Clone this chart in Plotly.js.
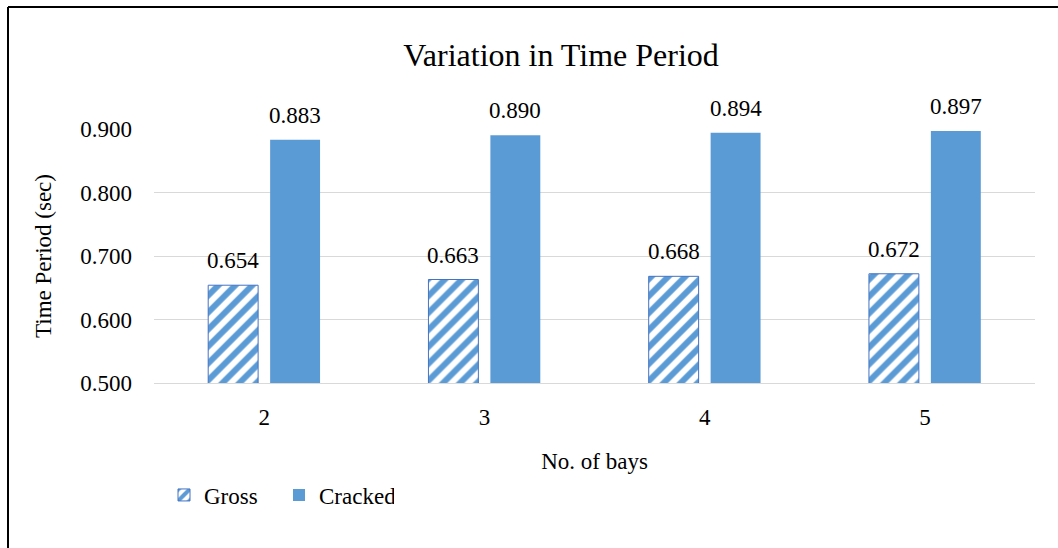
<!DOCTYPE html>
<html>
<head>
<meta charset="utf-8">
<script src="https://cdn.plot.ly/plotly-3.0.1.min.js"></script>
<style>html,body{margin:0;padding:0;background:#fff;}#chart{width:1058px;height:548px;}</style>
</head>
<body>
<div id="chart"></div>
<script>
const categories = ['2', '3', '4', '5'];
const grossValues = [0.654, 0.663, 0.668, 0.672];
const crackedValues = [0.883, 0.890, 0.894, 0.897];
const yTicks = [0.5, 0.6, 0.7, 0.8, 0.9];

const FONT = 'Liberation Serif';
const W = 1058, H = 548, L = 154, R = 23, T = 129, B = 165;
const pw = W - L - R, ph = H - T - B;
const px = x => (x - L) / pw;
const py = y => (H - B - y) / ph;

const traces = [
  {
    type: 'bar', name: 'Gross', x: categories, y: grossValues,
    marker: {
      color: '#FFFFFF',
      line: {color: '#4472C4', width: 1},
      pattern: {shape: '/', fgcolor: '#5B9BD5', bgcolor: '#FFFFFF', size: 12, solidity: 0.5, fillmode: 'replace'}
    },
    hoverinfo: 'skip'
  },
  {
    type: 'bar', name: 'Cracked', x: categories, y: crackedValues,
    marker: {color: '#5B9BD5'},
    hoverinfo: 'skip'
  }
];

const labelAnns = [];
categories.forEach((c, i) => {
  labelAnns.push({xref: 'x', yref: 'y', x: i, y: grossValues[i], text: grossValues[i].toFixed(3),
    showarrow: false, xshift: -31, yshift: 10, yanchor: 'bottom', font: {family: FONT, size: 23, color: '#000'}});
  labelAnns.push({xref: 'x', yref: 'y', x: i, y: crackedValues[i], text: crackedValues[i].toFixed(3),
    showarrow: false, xshift: 31, yshift: 10, yanchor: 'bottom', font: {family: FONT, size: 23, color: '#000'}});
});

const layout = {
  width: W, height: H,
  margin: {l: L, r: R, t: T, b: B},
  paper_bgcolor: '#FFFFFF', plot_bgcolor: '#FFFFFF',
  font: {family: FONT, size: 23, color: '#000'},
  title: {text: 'Variation in Time Period', font: {family: FONT, size: 32, color: '#000'},
          xref: 'container', x: 561 / W, xanchor: 'center', y: 1 - 55 / H, yanchor: 'middle'},
  barmode: 'group', bargap: 0.4376, bargroupgap: 0.194,
  xaxis: {
    type: 'category', range: [-0.5, categories.length - 0.5], autorange: false,
    showgrid: false, showline: true, linecolor: '#D9D9D9', linewidth: 1,
    ticks: '', ticklabelstandoff: 13, tickfont: {family: FONT, size: 23, color: '#000'},
    title: {text: 'No. of bays', font: {family: FONT, size: 23, color: '#000'}, standoff: 24}
  },
  yaxis: {
    range: [0.5, 0.9], autorange: false, tickvals: yTicks, tickformat: '.3f',
    showgrid: true, gridcolor: '#D9D9D9', gridwidth: 1, zeroline: false, showline: false,
    ticks: '', ticklabelstandoff: 21, tickfont: {family: FONT, size: 23, color: '#000'},
    title: {text: 'Time Period (sec)', font: {family: FONT, size: 23, color: '#000'}, standoff: 22}
  },
  showlegend: true,
  legend: {
    orientation: 'h', x: px(164), xanchor: 'left', y: py(495), yanchor: 'middle',
    font: {family: FONT, size: 23, color: '#000'}, entrywidth: 70, entrywidthmode: 'pixels',
    itemwidth: 30, tracegroupgap: 0, bgcolor: 'rgba(0,0,0,0)'
  },
  annotations: labelAnns,
  shapes: [
    {type: 'line', xref: 'paper', yref: 'paper', x0: px(8), x1: px(1058), y0: py(7), y1: py(7), line: {color: '#000', width: 2}},
    {type: 'line', xref: 'paper', yref: 'paper', x0: px(8), x1: px(8), y0: py(7), y1: py(548), line: {color: '#000', width: 2}}
  ]
};

Plotly.newPlot('chart', traces, layout, {displayModeBar: false, staticPlot: true});
</script>
</body>
</html>
